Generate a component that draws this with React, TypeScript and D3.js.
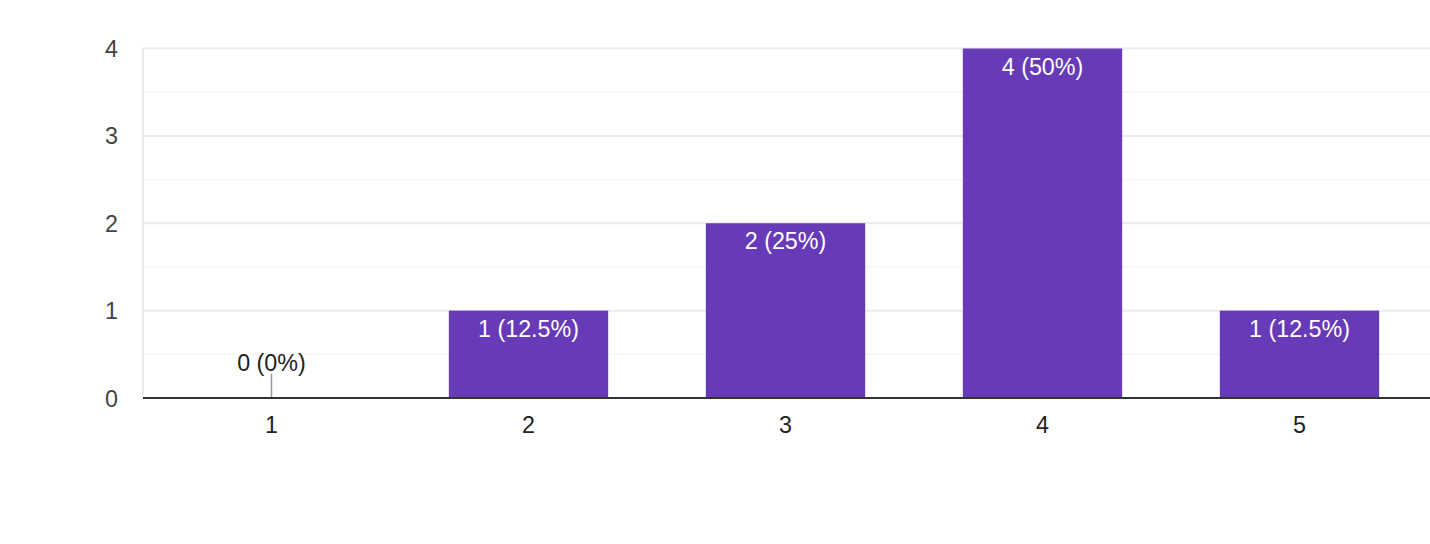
import React from "react";
import * as d3 from "d3";

const categories = ["1", "2", "3", "4", "5"];
const counts = [0, 1, 2, 4, 1];
const barLabels = ["0 (0%)", "1 (12.5%)", "2 (25%)", "4 (50%)", "1 (12.5%)"];
const yTicks = [0, 1, 2, 3, 4];
const yMinorTicks = [0.5, 1.5, 2.5, 3.5];

const W = 1430;
const H = 544;
const left = 143;
const right = 1428;
const top = 48.5;
const bottom = 398;
const font = "Arial, 'Liberation Sans', sans-serif";
const fs = 23.3;

export default function App() {
  const x = d3.scaleBand<string>().domain(categories).range([left, right]).paddingInner(0.38).paddingOuter(0.19);
  const y = d3.scaleLinear().domain([0, 4]).range([bottom, top]);
  return (
    <svg width={W} height={H} style={{ position: "absolute", left: 0, top: 0, background: "#fff" }}>
      {yMinorTicks.map((t) => (
        <line key={"m" + t} x1={left} x2={W} y1={y(t)} y2={y(t)} stroke="#f5f5f5" strokeWidth={1.5} />
      ))}
      {yTicks.filter((t) => t > 0).map((t) => (
        <line key={"g" + t} x1={left} x2={W} y1={y(t)} y2={y(t)} stroke="#ebebeb" strokeWidth={2} />
      ))}
      <line x1={left} x2={left} y1={top} y2={bottom} stroke="#ebebeb" strokeWidth={2} />
      {yTicks.map((t) => (
        <text key={"y" + t} x={118} y={y(t) + 8.5} textAnchor="end" fontFamily={font} fontSize={fs} fill="#444">
          {t}
        </text>
      ))}
      {categories.map((c, i) => {
        const bx = x(c)!;
        const bw = x.bandwidth();
        const cx = bx + bw / 2;
        const v = counts[i];
        if (v === 0) {
          return (
            <g key={c}>
              <line x1={cx} x2={cx} y1={bottom} y2={bottom - 24} stroke="#999" strokeWidth={1.5} />
              <text x={cx} y={bottom - 27} textAnchor="middle" fontFamily={font} fontSize={fs} fill="#222">
                {barLabels[i]}
              </text>
            </g>
          );
        }
        return (
          <g key={c}>
            <rect x={bx} y={y(v)} width={bw} height={bottom - y(v)} fill="#673ab7" />
            <text x={cx} y={y(v) + 26} textAnchor="middle" fontFamily={font} fontSize={fs} fill="#fff">
              {barLabels[i]}
            </text>
          </g>
        );
      })}
      <line x1={left} x2={W} y1={bottom} y2={bottom} stroke="#333" strokeWidth={2} />
      {categories.map((c) => (
        <text key={"x" + c} x={x(c)! + x.bandwidth() / 2} y={433} textAnchor="middle" fontFamily={font} fontSize={fs} fill="#222">
          {c}
        </text>
      ))}
    </svg>
  );
}
